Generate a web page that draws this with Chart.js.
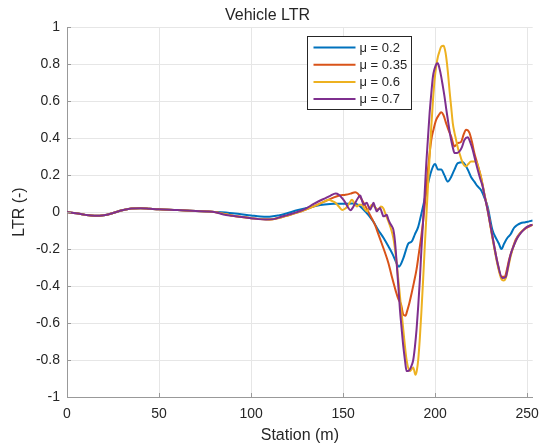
<!DOCTYPE html>
<html>
<head>
<meta charset="utf-8">
<script src="https://cdn.jsdelivr.net/npm/chart.js@4.4.1/dist/chart.umd.min.js"></script>
<style>
html,body{margin:0;padding:0;background:#fff;}
canvas{display:block;}
</style>
</head>
<body>
<canvas id="c" width="548" height="445"></canvas>
<script>
// ---- data ----
const seriesLabels = ['μ = 0.2', 'μ = 0.35', 'μ = 0.6', 'μ = 0.7'];
const seriesColors = ['#0072BD', '#D95319', '#EDB120', '#7E2F8E'];

const commonX = [0,5,10,15,20,25,30,35,40,45,50,60,70,80];
const commonY = [0,-0.006,-0.015,-0.02,-0.017,-0.005,0.01,0.019,0.021,0.018,0.015,0.011,0.006,0.001];

const blueX = [90,100,105,110,115,120,125,130,135,140,145,150,155,158,162,166,169,172,174.6,177,179,180.3,182.7,184,185.4,187.2,189,190.8,192.5,194.3,197,199,200,201.5,203.3,205,206.9,208.7,210.5,212.3,215,217.7,219.5,221.3,223,224.9,226.7,228.5,231.1,233,234.6,236,237.5,239.2,241,242.8,244.6,246.4,249,251,253];
const blueY = [-0.006,-0.018,-0.024,-0.025,-0.018,-0.005,0.01,0.022,0.033,0.041,0.045,0.045,0.046,0.04,0.004,-0.045,-0.095,-0.14,-0.185,-0.23,-0.275,-0.295,-0.25,-0.21,-0.17,-0.16,-0.12,-0.08,-0.01,0.07,0.19,0.25,0.26,0.23,0.23,0.2,0.165,0.19,0.23,0.265,0.27,0.23,0.19,0.165,0.14,0.12,0.08,0.03,-0.095,-0.14,-0.17,-0.2,-0.17,-0.14,-0.12,-0.086,-0.07,-0.06,-0.055,-0.05,-0.045];

const redX = [90,95,100,105,110,115,120,125,130,135,140,145,148,151.3,154,156.6,158,160.2,162,163.8,165.6,167.4,169,171,172.8,174.6,176,177.3,178.7,180,181.5,182.7,184,184.5,185.8,187.2,188.5,189.9,191.2,192.5,194.3,196.1,197.9,199.2,200.6,202,203.3,204.5,206,207.4,208.7,210.5,212.3,214.1,215.5,216.8,218.6,220,221.3,223,224.9,226.7,228.5,231.1,233.9,236,237.8,239,240.1,242,243.7,246,248.2,251,253];
const redY = [-0.02,-0.027,-0.033,-0.038,-0.04,-0.032,-0.018,-0.003,0.015,0.035,0.058,0.08,0.09,0.094,0.1,0.108,0.1,0.067,0.035,0,-0.035,-0.07,-0.115,-0.17,-0.22,-0.275,-0.33,-0.38,-0.43,-0.47,-0.5,-0.555,-0.56,-0.545,-0.5,-0.44,-0.38,-0.31,-0.22,-0.13,0.03,0.23,0.39,0.45,0.5,0.525,0.54,0.525,0.48,0.44,0.41,0.355,0.373,0.38,0.42,0.445,0.43,0.38,0.32,0.26,0.19,0.1,0.013,-0.13,-0.275,-0.35,-0.35,-0.31,-0.26,-0.2,-0.15,-0.115,-0.095,-0.078,-0.068];

const yellowX = [90,95,100,105,110,115,120,125,130,135,140,142.3,144,145.9,147.7,149.5,151,152.2,153.5,154.8,156,157.5,158.8,160.2,161.5,162.9,164.2,165.6,167,168,169.2,170.5,171.9,173,174.6,176,177.3,178.2,179.1,180.9,182.7,184.5,186.3,187.2,188.1,189.3,190,190.8,191.7,192.5,193.4,194.3,195.2,196.1,197,197.9,198.8,199.7,200.6,201.5,202.4,203.3,204.6,205.3,206,206.9,207.8,208.7,209.6,210.5,211.4,212.3,213.2,214.1,215,216.8,218,219.5,222.2,223.5,224.9,226.7,228.5,231.1,233.9,236,237.2,238.4,239.5,241,242.8,244.6,246.5,249.1,251,253];
const yellowY = [-0.02,-0.027,-0.033,-0.038,-0.04,-0.032,-0.018,-0.003,0.015,0.035,0.058,0.067,0.06,0.05,0.03,0.012,0.018,0.03,0.05,0.067,0.05,0.03,0.04,0.04,0.02,0.005,0.02,0.04,0.03,0.02,0.013,0.03,0.02,-0.01,-0.05,-0.09,-0.14,-0.2,-0.275,-0.455,-0.636,-0.8,-0.86,-0.85,-0.84,-0.88,-0.86,-0.8,-0.68,-0.546,-0.38,-0.2,-0.03,0.14,0.3,0.46,0.6,0.715,0.79,0.84,0.87,0.895,0.9,0.88,0.84,0.76,0.66,0.57,0.48,0.43,0.39,0.35,0.32,0.29,0.265,0.247,0.26,0.274,0.274,0.24,0.19,0.1,0.013,-0.14,-0.285,-0.362,-0.37,-0.357,-0.31,-0.24,-0.18,-0.14,-0.11,-0.086,-0.075,-0.068];

const purpleX = [85,90,95,100,104,108,112,115,120,125,130,133.3,137,140.5,143,145.9,147.7,149.5,151.3,152.7,154,155.3,156.6,158,159.3,160.2,161.1,162,162.9,163.8,164.7,165.6,166.5,167.4,168.3,169.2,170.1,171,171.9,172.8,173.7,174.6,175.5,176.4,177.3,178.2,179.1,180,180.9,181.8,182.7,183.6,184.5,185.4,186.3,187.2,188.1,189,189.9,190.8,191.7,192.5,193.4,194.3,195.2,196.1,197,197.9,198.8,199.7,200.6,201.5,202.4,203.3,204.2,205.1,206,206.9,207.8,208.7,209.6,210.5,212,213.2,214.5,215.9,217.7,219,220.4,221.8,223.1,224.5,225.8,227,228.5,231.1,233.9,236.5,238.4,239.7,241,242.8,244.6,246.8,249.1,251,253];
const purpleY = [-0.013,-0.02,-0.027,-0.033,-0.038,-0.04,-0.038,-0.03,-0.015,0,0.02,0.04,0.06,0.076,0.088,0.1,0.094,0.075,0.05,0.025,0.01,0.025,0.05,0.075,0.09,0.065,0.04,0.045,0.05,0.03,0.013,0.03,0.05,0.025,0.004,0.015,0.022,0,-0.023,-0.02,-0.014,-0.04,-0.06,-0.075,-0.095,-0.16,-0.275,-0.4,-0.53,-0.63,-0.725,-0.8,-0.86,-0.86,-0.85,-0.83,-0.8,-0.73,-0.636,-0.51,-0.366,-0.21,-0.06,0.1,0.265,0.4,0.535,0.64,0.733,0.775,0.8,0.805,0.775,0.733,0.68,0.625,0.56,0.5,0.44,0.39,0.35,0.32,0.32,0.328,0.35,0.39,0.405,0.38,0.337,0.28,0.23,0.18,0.14,0.08,0.013,-0.13,-0.275,-0.357,-0.35,-0.29,-0.23,-0.18,-0.14,-0.11,-0.086,-0.075,-0.068];

const xTicks = [0, 50, 100, 150, 200, 250];
const yTickLabels = ['-1','-0.8','-0.6','-0.4','-0.2','0','0.2','0.4','0.6','0.8','1'];

const titleText = 'Vehicle LTR';
const xTitle = 'Station (m)';
const yTitle = 'LTR (-)';

// ---- build ----
function pts(xs, ys) { return xs.map((x, i) => ({x: x, y: ys[i]})); }
const seriesXY = [
  [commonX.concat(blueX), commonY.concat(blueY)],
  [commonX.concat(redX), commonY.concat(redY)],
  [commonX.concat(yellowX), commonY.concat(yellowY)],
  [commonX.concat(purpleX), commonY.concat(purpleY)]
];

const FONT = "'Liberation Sans', Arial, Helvetica, sans-serif";
const TXT = '#262626';
const AXIS = '#999999';

const datasets = seriesXY.map((s, i) => ({
  label: seriesLabels[i],
  data: pts(s[0], s[1]),
  borderColor: seriesColors[i],
  backgroundColor: seriesColors[i],
  borderWidth: 2,
  pointRadius: 0,
  fill: false,
  tension: 0,
  cubicInterpolationMode: 'monotone',
  order: 3 - i
}));

const innerTicks = {
  id: 'innerTicks',
  afterDraw(chart) {
    const ctx = chart.ctx, a = chart.chartArea;
    const xs = chart.scales.x, ys = chart.scales.y;
    ctx.save();
    ctx.strokeStyle = AXIS;
    ctx.lineWidth = 1;
    ctx.beginPath();
    xs.ticks.forEach(t => {
      const px = Math.round(xs.getPixelForValue(t.value)) + 0.5;
      ctx.moveTo(px, a.bottom); ctx.lineTo(px, a.bottom - 4);
    });
    ys.ticks.forEach(t => {
      const py = Math.round(ys.getPixelForValue(t.value)) + 0.5;
      ctx.moveTo(a.left, py); ctx.lineTo(a.left + 4, py);
    });
    ctx.stroke();
    ctx.restore();
  }
};

const boxLegend = {
  id: 'boxLegend',
  afterDraw(chart) {
    const ctx = chart.ctx;
    const left = 307.5, top = 36.5, w = 104, h = 73;
    ctx.save();
    ctx.fillStyle = '#ffffff';
    ctx.fillRect(left, top, w, h);
    ctx.strokeStyle = '#262626';
    ctx.lineWidth = 1;
    ctx.strokeRect(left, top, w, h);
    ctx.font = '13px ' + FONT;
    ctx.textBaseline = 'middle';
    ctx.textAlign = 'left';
    chart.data.datasets.forEach((ds, i) => {
      const cy = top + 11 + i * 17.2;
      ctx.strokeStyle = ds.borderColor;
      ctx.lineWidth = 2;
      ctx.beginPath();
      ctx.moveTo(left + 6, cy); ctx.lineTo(left + 48, cy);
      ctx.stroke();
      ctx.fillStyle = TXT;
      ctx.fillText(ds.label, left + 52, cy + 0.5);
    });
    ctx.restore();
  }
};

new Chart(document.getElementById('c'), {
  type: 'line',
  data: { datasets: datasets },
  plugins: [innerTicks, boxLegend],
  options: {
    responsive: false,
    animation: false,
    devicePixelRatio: 1,
    layout: { padding: { left: 0, right: 13, top: 0, bottom: 0 } },
    plugins: {
      legend: { display: false },
      tooltip: { enabled: false },
      title: {
        display: true, text: titleText, color: TXT,
        font: { family: FONT, size: 16, weight: 'normal' },
        padding: { top: 6, bottom: 2 }
      }
    },
    scales: {
      x: {
        type: 'linear', min: 0, max: 253,
        afterFit(s) { s.height = 48; },
        afterBuildTicks(s) { s.ticks = xTicks.map(v => ({value: v})); },
        ticks: { color: TXT, font: { family: FONT, size: 14 }, padding: 9, maxRotation: 0, callback: v => String(v) },
        grid: { color: '#e6e6e6', drawTicks: false },
        border: { color: AXIS, width: 1 },
        title: { display: true, text: xTitle, color: TXT, font: { family: FONT, size: 16 }, padding: { top: 7, bottom: 0 } }
      },
      y: {
        type: 'linear', min: -1, max: 1,
        afterFit(s) { s.width = 67; },
        afterBuildTicks(s) { s.ticks = yTickLabels.map(v => ({value: parseFloat(v)})); },
        ticks: { color: TXT, font: { family: FONT, size: 14 }, padding: 7,
          callback: (v) => yTickLabels[Math.round((v + 1) * 5)] },
        grid: { color: '#e6e6e6', drawTicks: false },
        border: { color: AXIS, width: 1 },
        title: { display: true, text: yTitle, color: TXT, font: { family: FONT, size: 16 }, padding: { top: 10, bottom: 4 } }
      }
    }
  }
});
</script>
</body>
</html>
